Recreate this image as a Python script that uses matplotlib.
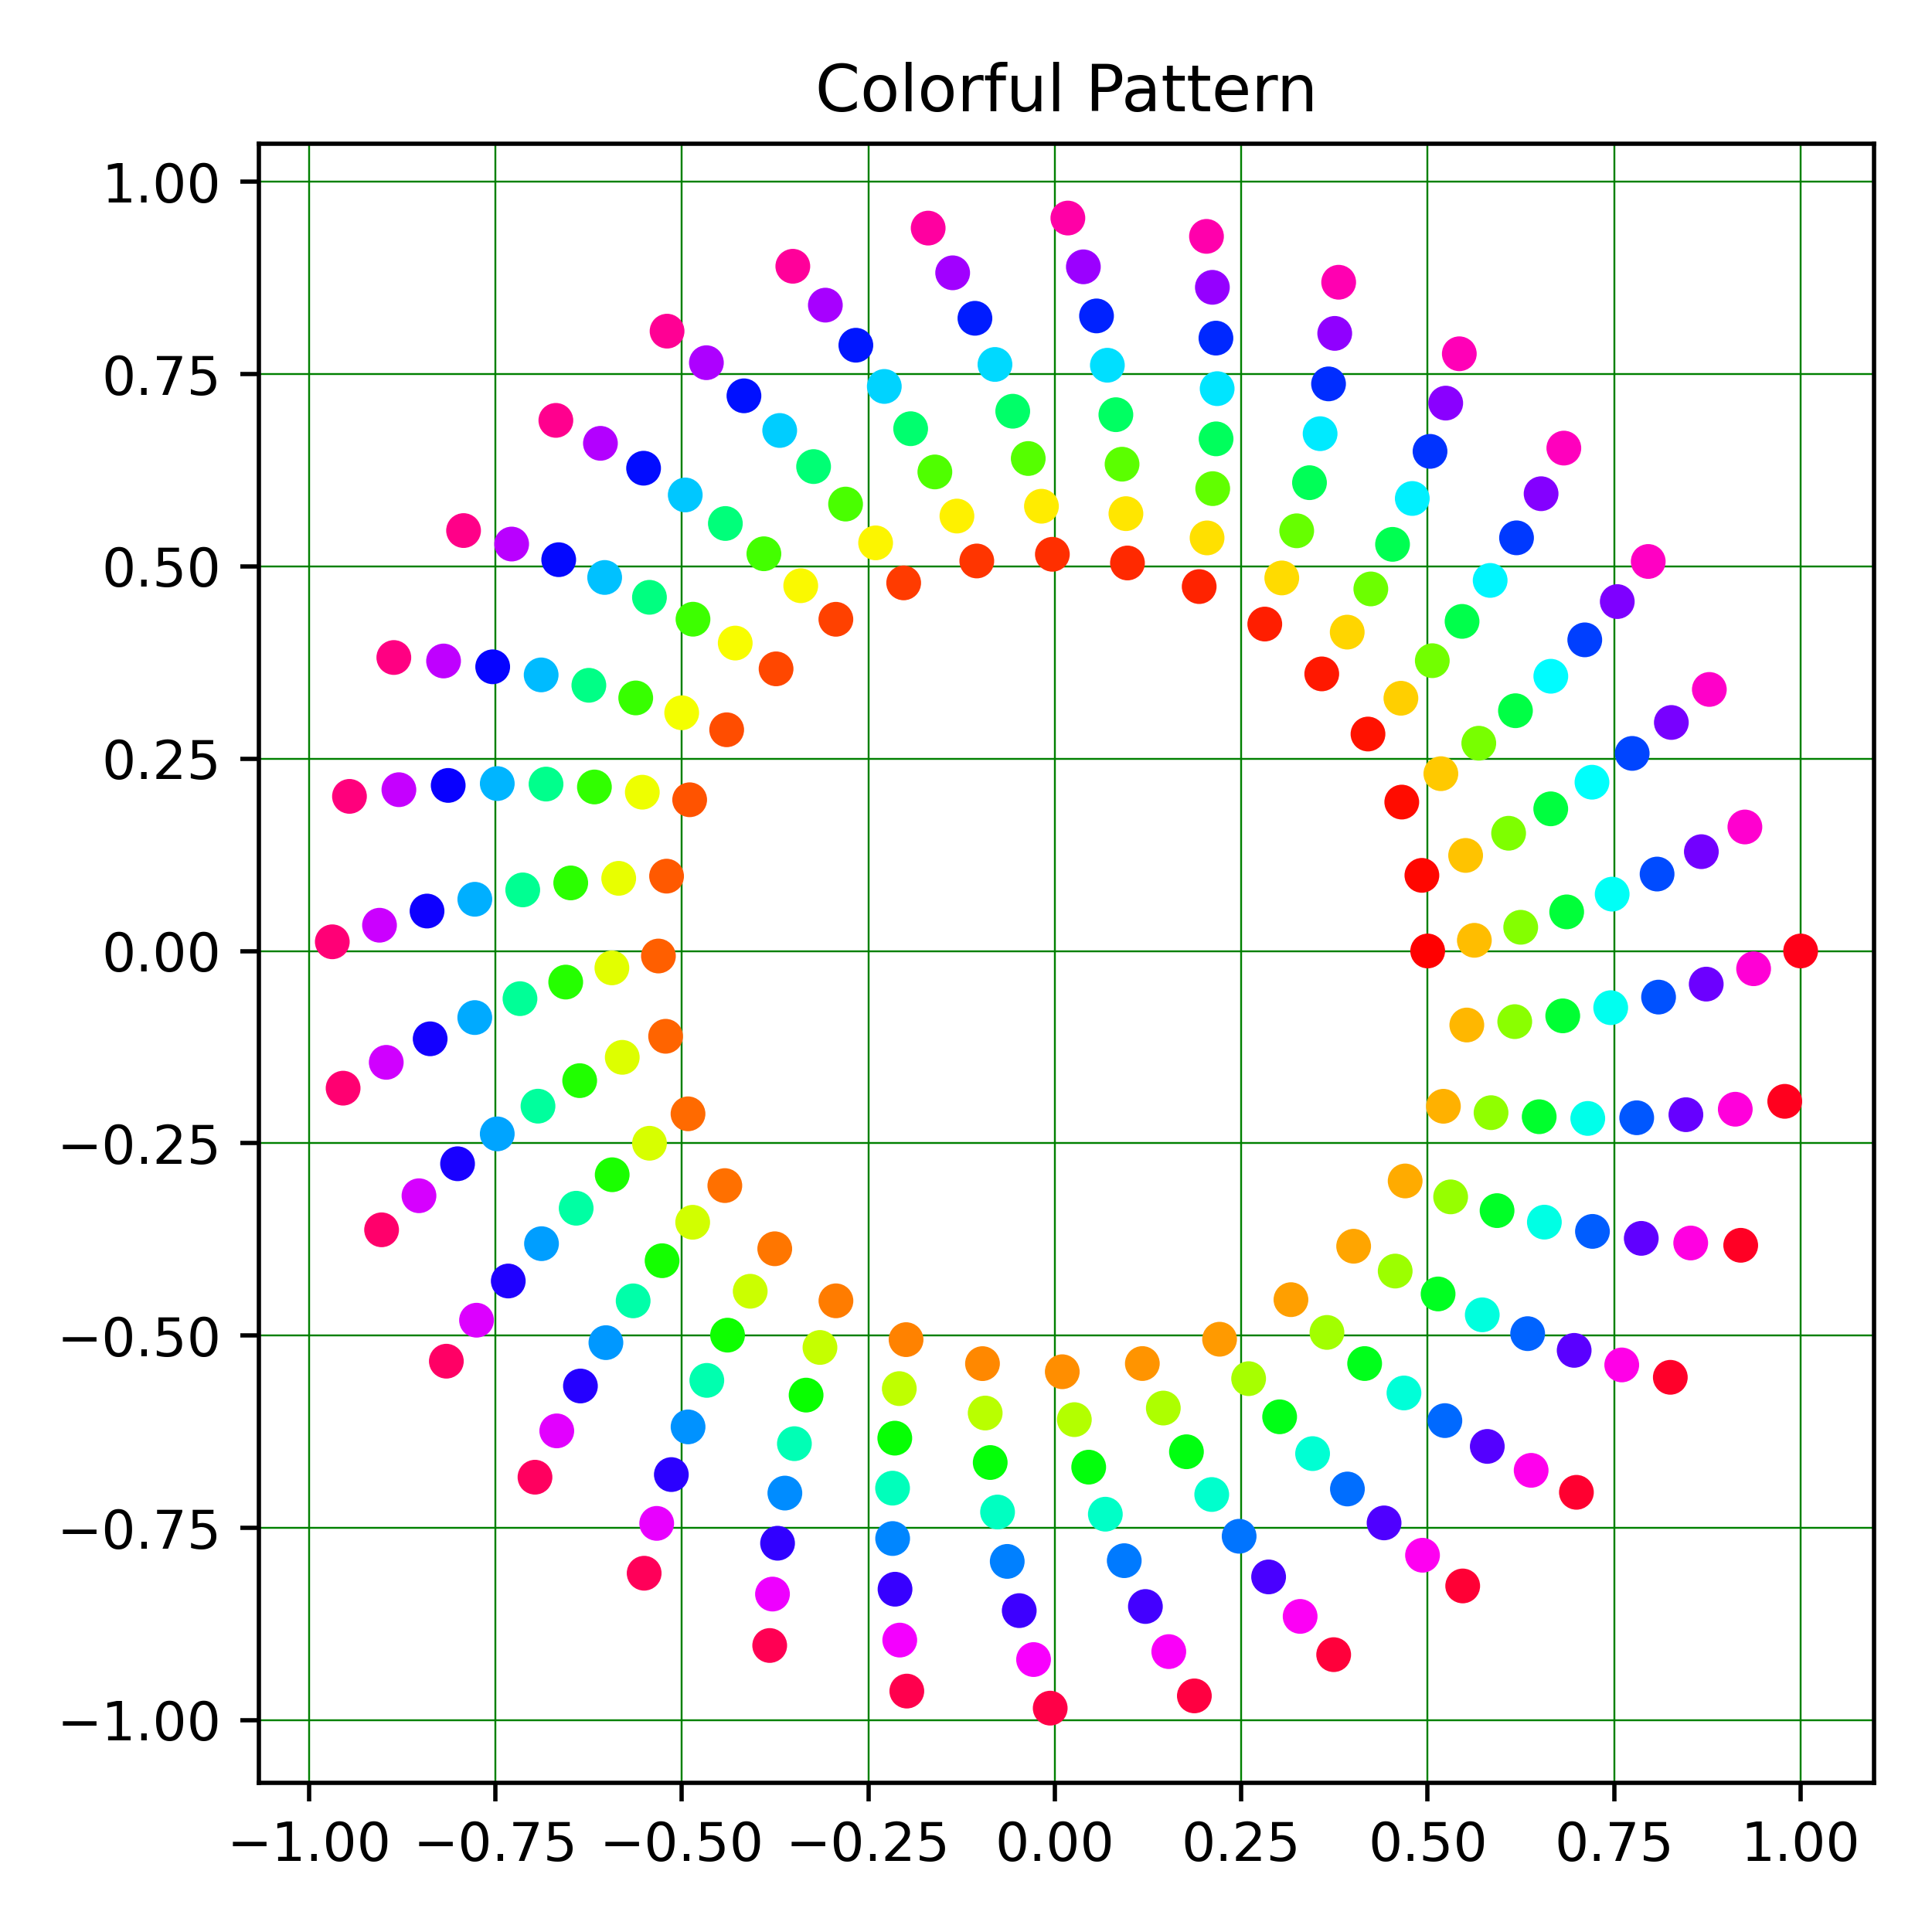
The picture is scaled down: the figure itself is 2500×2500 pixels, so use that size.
import numpy as np
import matplotlib
matplotlib.use("Agg")
import matplotlib.pyplot as plt

# Spiral: 256 evenly spaced points, 8 full turns,
# radius growing from 0.5 to 1.0, hue running once through the hsv map.
n_points = 256
n_turns = 8
r_inner = 0.5
r_outer = 1.0
title_text = "Colorful Pattern"

theta = np.linspace(0.0, 2 * np.pi * n_turns, n_points)
radius = np.linspace(r_inner, r_outer, n_points)
hue = np.linspace(0.0, 1.0, n_points)

x = radius * np.cos(theta)
y = radius * np.sin(theta)

fig, ax = plt.subplots(figsize=(5, 5), dpi=500)
ax.scatter(x, y, c=hue, cmap="hsv", s=30, zorder=3)
ax.grid(True, color="green", linewidth=0.35, zorder=0)
ax.set_axisbelow(True)
ax.set_title(title_text)
fig.subplots_adjust(left=0.134, right=0.970, bottom=0.0773, top=0.9257)
fig.savefig("out.png", dpi=500)
